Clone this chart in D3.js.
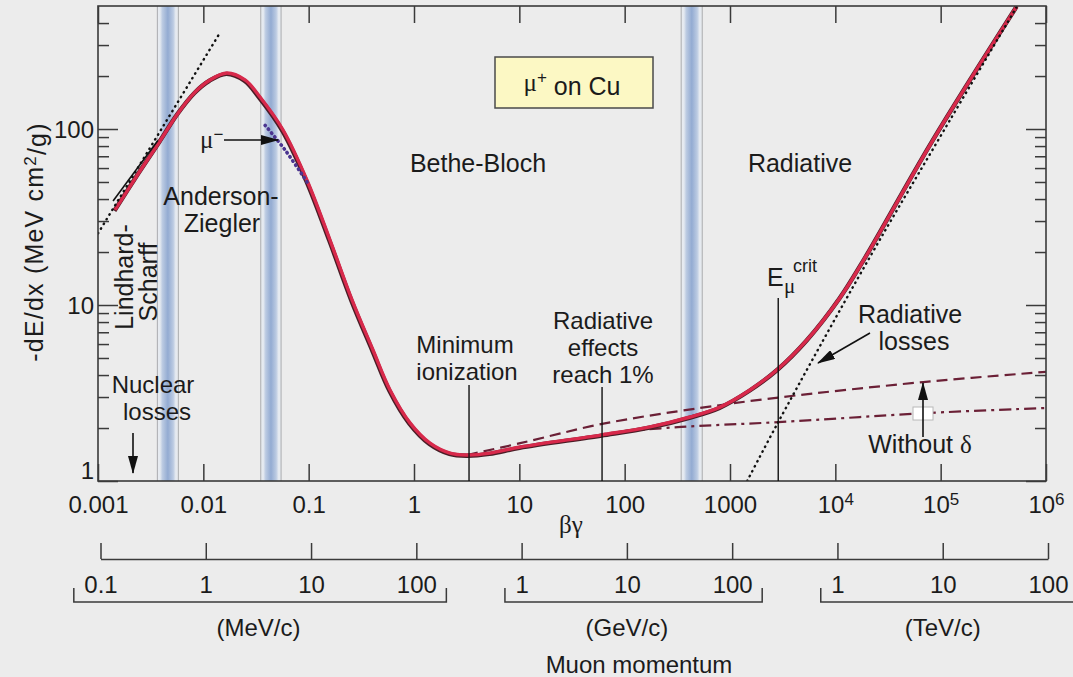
<!DOCTYPE html>
<html>
<head>
<meta charset="utf-8">
<script src="https://cdn.jsdelivr.net/npm/d3@7"></script>
<style>
  body { margin: 0; background: #ececec; }
  svg text { font-family: "Liberation Sans", Arial, Helvetica, sans-serif; fill: #1b1b1b; }
  .gr { font-family: "Liberation Serif", "DejaVu Serif", serif; }
</style>
</head>
<body>
<svg id="chart" width="1073" height="677"></svg>
<script>
// ---- data ----
var bgTicks  = [0.001, 0.01, 0.1, 1, 10, 100, 1000, 1e4, 1e5, 1e6];
var bgLabels = ["0.001", "0.01", "0.1", "1", "10", "100", "1000", "10^4", "10^5", "10^6"];
var yMajor = [1, 10, 100];
var yMinor = [2, 3, 4, 5, 6, 7, 8, 9, 20, 30, 40, 50, 60, 70, 80, 90, 200, 300, 400];

// muon momentum axis, in MeV/c
var momMeV = [0.1, 1, 10, 100];
var momGeV = [1e3, 1e4, 1e5];
var momTeV = [1e6, 1e7, 1e8];
var momMeVLabels = ["0.1", "1", "10", "100"];
var momGeVLabels = ["1", "10", "100"];
var momTeVLabels = ["1", "10", "100"];
var momUnits = ["(MeV/c)", "(GeV/c)", "(TeV/c)"];

// [beta*gamma, -dE/dx in MeV cm2/g]
var totalLoss = [[0.00145, 34.7], [0.0024, 55.5], [0.00388, 85.5], [0.00575, 123], [0.00834, 162],
  [0.01157, 190], [0.01677, 208], [0.02486, 190], [0.0345, 152], [0.0571, 98.7], [0.0966, 51],
  [0.1594, 23.4], [0.2579, 10.7], [0.408, 5.55], [0.592, 3.29], [0.916, 2.14], [1.42, 1.64],
  [2.2, 1.44], [3.19, 1.405], [5.27, 1.44], [10.2, 1.56], [61, 1.83], [174, 2.03], [417, 2.31],
  [804, 2.63], [1549, 3.29], [2856, 4.33], [5383, 6.33], [11076, 11.0], [19120, 18.5],
  [84560, 86.6], [530600, 500]];
var radiativeLoss = [[1456, 1.0], [2870, 2.16], [20500, 18.0], [94900, 86.6], [533000, 500]];
var noDelta = [[3.19, 1.405], [10.2, 1.64], [61, 2.11], [521, 2.6], [2870, 2.98], [68400, 3.65], [1e6, 4.17]];
var withDelta = [[100, 1.92], [344, 2.03], [2870, 2.16], [71400, 2.43], [1e6, 2.6]];
var lindhardFit = [[0.00139, 39], [0.0037, 86]];
var lindhardExtrap = [[0.001, 25.5], [0.0145, 355]];
var muMinus = [[0.0386, 105], [0.0597, 76], [0.0966, 50]];
var bands = [[0.00366, 0.00579], [0.0351, 0.0547], [344, 545]];
var markers = { minIon: 3.33, rad1pct: 61, eCrit: 2870 };

// ---- scales ----
var svg = d3.select("#chart");
var x = d3.scaleLog().domain([0.001, 1e6]).range([98, 1046]);
var y = d3.scaleLog().domain([1, 500]).range([481, 6]);
var p = d3.scaleLog().domain([0.1, 1e8]).range([100.5, 1048]);

svg.append("rect").attr("width", 1073).attr("height", 677).attr("fill", "#ececec");

var defs = svg.append("defs");
defs.append("clipPath").attr("id", "plotclip").append("rect")
  .attr("x", 98).attr("y", 6).attr("width", 948).attr("height", 475);
var grad = defs.append("linearGradient").attr("id", "bandGrad");
[[0, "#e9ecf0"], [0.13, "#e4e9f0"], [0.24, "#bccbe2"], [0.5, "#93abd2"], [0.76, "#bccbe2"], [0.87, "#e4e9f0"], [1, "#e9ecf0"]]
  .forEach(function (s) { grad.append("stop").attr("offset", s[0]).attr("stop-color", s[1]); });
defs.append("marker").attr("id", "ah").attr("viewBox", "0 0 18 10").attr("refX", 17).attr("refY", 5)
  .attr("markerWidth", 18).attr("markerHeight", 10).attr("markerUnits", "userSpaceOnUse").attr("orient", "auto")
  .append("path").attr("d", "M0,0L18,5L0,10Z").attr("fill", "#111");

// ---- bands ----
var bandG = svg.append("g");
bands.forEach(function (b) {
  bandG.append("rect").attr("x", x(b[0])).attr("y", y(500)).attr("width", x(b[1]) - x(b[0]))
    .attr("height", y(1) - y(500)).attr("fill", "url(#bandGrad)");
  b.forEach(function (v) {
    bandG.append("line").attr("x1", x(v)).attr("x2", x(v)).attr("y1", y(500)).attr("y2", y(1))
      .attr("stroke", "#a9abae").attr("stroke-width", 1);
  });
});

// ---- curves ----
var line = d3.line().x(function (d) { return x(d[0]); }).y(function (d) { return y(d[1]); })
  .curve(d3.curveCatmullRom.alpha(0.5));
var plot = svg.append("g").attr("clip-path", "url(#plotclip)");

plot.append("path").datum(noDelta).attr("d", line).attr("fill", "none")
  .attr("stroke", "#6b2036").attr("stroke-width", 2.2).attr("stroke-dasharray", "11,6");
plot.append("path").datum(withDelta).attr("d", line).attr("fill", "none")
  .attr("stroke", "#6b2036").attr("stroke-width", 2.2).attr("stroke-dasharray", "12,5,3,5");

plot.append("path").datum(totalLoss).attr("d", line).attr("fill", "none")
  .attr("stroke", "#4a1d26").attr("stroke-width", 4.4).attr("transform", "translate(-0.6,0.8)");
plot.append("path").datum(totalLoss).attr("d", line).attr("fill", "none")
  .attr("stroke", "#d8294b").attr("stroke-width", 3.4);

plot.append("path").datum(lindhardFit).attr("d", line).attr("fill", "none")
  .attr("stroke", "#111").attr("stroke-width", 1.6);
plot.append("path").datum(lindhardExtrap).attr("d", line).attr("fill", "none")
  .attr("stroke", "#111").attr("stroke-width", 2.4).attr("stroke-dasharray", "0.5,5").attr("stroke-linecap", "round");
plot.append("path").datum(radiativeLoss).attr("d", line).attr("fill", "none")
  .attr("stroke", "#111").attr("stroke-width", 2.4).attr("stroke-dasharray", "0.5,5").attr("stroke-linecap", "round");
plot.append("path").datum(muMinus).attr("d", line).attr("fill", "none")
  .attr("stroke", "#4b3590").attr("stroke-width", 3.6).attr("stroke-dasharray", "0.5,4.5").attr("stroke-linecap", "round");

// ---- frame and axes ----
svg.append("rect").attr("x", 98).attr("y", 6).attr("width", 948).attr("height", 475)
  .attr("fill", "none").attr("stroke", "#3a3a3a").attr("stroke-width", 1.6);

function styleTicks(g) {
  g.select(".domain").remove();
  g.selectAll(".tick line").attr("stroke", "#3a3a3a").attr("stroke-width", 1.5);
}
svg.append("g").attr("transform", "translate(0," + y(1) + ")")
  .call(d3.axisTop(x).tickValues(bgTicks).tickSize(17).tickSizeOuter(0).tickFormat("")).call(styleTicks);
svg.append("g").attr("transform", "translate(0," + y(500) + ")")
  .call(d3.axisBottom(x).tickValues(bgTicks).tickSize(17).tickSizeOuter(0).tickFormat("")).call(styleTicks);
svg.append("g").attr("transform", "translate(" + x(0.001) + ",0)")
  .call(d3.axisRight(y).tickValues(yMajor).tickSize(20).tickSizeOuter(0).tickFormat("")).call(styleTicks);
svg.append("g").attr("transform", "translate(" + x(0.001) + ",0)")
  .call(d3.axisRight(y).tickValues(yMinor).tickSize(11).tickSizeOuter(0).tickFormat("")).call(styleTicks);
svg.append("g").attr("transform", "translate(" + x(1e6) + ",0)")
  .call(d3.axisLeft(y).tickValues(yMajor).tickSize(20).tickSizeOuter(0).tickFormat("")).call(styleTicks);
svg.append("g").attr("transform", "translate(" + x(1e6) + ",0)")
  .call(d3.axisLeft(y).tickValues(yMinor).tickSize(11).tickSizeOuter(0).tickFormat("")).call(styleTicks);

// beta*gamma labels
var gxl = svg.append("g").attr("transform", "translate(0," + y(1) + ")")
  .call(d3.axisBottom(x).tickValues(bgTicks).tickSize(0).tickPadding(15).tickFormat(""));
gxl.select(".domain").remove();
gxl.attr("font-size", 24).attr("font-family", null);
gxl.selectAll(".tick text").attr("fill", "#1b1b1b").each(function (d, i) {
  var t = d3.select(this), lab = bgLabels[i];
  if (lab.indexOf("^") >= 0) {
    var parts = lab.split("^");
    t.append("tspan").text(parts[0]);
    t.append("tspan").attr("dy", "-0.45em").attr("font-size", "17px").text(parts[1]);
  } else {
    t.text(lab);
  }
});

// y labels
var gyl = svg.append("g").attr("transform", "translate(" + x(0.001) + ",0)")
  .call(d3.axisLeft(y).tickValues(yMajor).tickSize(0).tickPadding(4).tickFormat(d3.format("d")));
gyl.select(".domain").remove();
gyl.attr("font-size", 24).attr("font-family", null);
gyl.selectAll(".tick text").attr("fill", "#1b1b1b")
  .attr("dy", function (d) { return d === 1 ? "-0.12em" : "0.34em"; });

svg.append("text").attr("transform", "translate(43,242) rotate(-90)").attr("text-anchor", "middle")
  .attr("font-size", 25).attr("letter-spacing", 1.2)
  .call(function (t) {
    t.append("tspan").text("-dE/dx (MeV cm");
    t.append("tspan").attr("dy", "-0.42em").attr("font-size", "17px").text("2");
    t.append("tspan").attr("dy", "0.42em").text("/g)");
  });

svg.append("text").attr("class", "gr").attr("x", 571).attr("y", 533).attr("text-anchor", "middle")
  .attr("font-size", 25).text("\u03b2\u03b3");

// ---- momentum axis ----
var gm = svg.append("g").attr("transform", "translate(0,559)")
  .call(d3.axisTop(p).tickValues(momMeV.concat(momGeV, momTeV)).tickSize(16).tickSizeOuter(0).tickFormat(""));
gm.select(".domain").attr("stroke", "#3a3a3a").attr("stroke-width", 1.5);
gm.selectAll(".tick line").attr("stroke", "#3a3a3a").attr("stroke-width", 1.5);

[[momMeV, momMeVLabels], [momGeV, momGeVLabels], [momTeV, momTeVLabels]].forEach(function (grp, gi) {
  var g = svg.append("g").attr("transform", "translate(0,559)")
    .call(d3.axisBottom(p).tickValues(grp[0]).tickSize(0).tickPadding(17)
      .tickFormat(function (d, i) { return grp[1][i]; }));
  g.select(".domain").remove();
  g.attr("font-size", 24).attr("font-family", null);
  g.selectAll(".tick text").attr("fill", "#1b1b1b");
  var lo = Infinity, hi = -Infinity;
  g.selectAll(".tick").each(function (d) {
    var bb = this.querySelector("text").getBBox();
    lo = Math.min(lo, p(d) + bb.x);
    hi = Math.max(hi, p(d) + bb.x + bb.width);
  });
  svg.append("path").attr("d", "M" + (lo - 10) + ",588V602H" + (hi + 10) + "V588")
    .attr("fill", "none").attr("stroke", "#3a3a3a").attr("stroke-width", 1.5);
  var mid = Math.sqrt(grp[0][0] * grp[0][grp[0].length - 1]);
  svg.append("text").attr("x", p(mid)).attr("y", 636).attr("text-anchor", "middle")
    .attr("font-size", 24).text(momUnits[gi]);
});
svg.append("text").attr("x", 639).attr("y", 673).attr("text-anchor", "middle")
  .attr("font-size", 24).text("Muon momentum");

// ---- annotations ----
// multi-line label as one text element
function label(tx, ty, lines, gap, shifts, size) {
  var t = svg.append("text").attr("x", tx).attr("y", ty).attr("text-anchor", "middle").attr("font-size", size || 25);
  lines.forEach(function (s, i) {
    t.append("tspan").attr("x", tx + ((shifts && shifts[i]) || 0)).attr("dy", i ? gap : 0).text(s);
  });
  return t;
}
function arrow(x1, y1, x2, y2) {
  svg.append("line").attr("x1", x1).attr("y1", y1).attr("x2", x2).attr("y2", y2)
    .attr("stroke", "#111").attr("stroke-width", 1.6).attr("marker-end", "url(#ah)");
}
function vline(bg, top) {
  svg.append("line").attr("x1", x(bg)).attr("x2", x(bg)).attr("y1", top).attr("y2", y(1))
    .attr("stroke", "#111").attr("stroke-width", 1.4);
}

// box
svg.append("rect").attr("x", 495).attr("y", 57).attr("width", 158).attr("height", 51)
  .attr("fill", "#fcf8c4").attr("stroke", "#4a4a4a").attr("stroke-width", 1.5);
svg.append("text").attr("x", 572).attr("y", 91).attr("text-anchor", "middle").attr("font-size", 25)
  .call(function (t) {
    t.append("tspan").attr("class", "gr").text("\u03bc");
    t.append("tspan").attr("dy", "-0.45em").attr("font-size", "17px").text("+");
    t.append("tspan").attr("dy", "0.45em").text(" on Cu");
  });

label(478, 172, ["Bethe-Bloch"]);
label(800, 172, ["Radiative"]);
label(221, 205, ["Anderson-", "Ziegler"], 27, [0, 1]);

svg.append("text").attr("transform", "translate(133,277) rotate(-90)").attr("text-anchor", "middle")
  .attr("font-size", 25).call(function (t) {
    t.append("tspan").attr("x", 0).text("Lindhard-");
    t.append("tspan").attr("x", -5).attr("dy", 24).text("Scharff");
  });

label(153, 393, ["Nuclear", "losses"], 27, [0, 4], 24);
arrow(133, 433, 133, 473);

svg.append("text").attr("x", 200).attr("y", 148).attr("font-size", 25)
  .call(function (t) {
    t.append("tspan").attr("class", "gr").text("\u03bc");
    t.append("tspan").attr("dy", "-0.5em").attr("font-size", "17px").text("\u2212");
  });
arrow(224, 140, 278, 140);

label(465, 353, ["Minimum", "ionization"], 27, [0, 2], 24);
vline(markers.minIon, 385);

label(603, 329, ["Radiative", "effects", "reach 1%"], 27, null, 24);
vline(markers.rad1pct, 387);

svg.append("text").attr("x", 767).attr("y", 286).attr("font-size", 25)
  .call(function (t) {
    t.append("tspan").text("E");
    t.append("tspan").attr("class", "gr").attr("x", 784).attr("y", 293).attr("font-size", 21).text("\u03bc");
    t.append("tspan").attr("x", 793).attr("y", 272).attr("font-size", 18).text("crit");
  });
vline(markers.eCrit, 298);

label(910, 323, ["Radiative", "losses"], 27, [0, 4]);
arrow(870, 333, 818, 363);

svg.append("rect").attr("x", 913).attr("y", 407).attr("width", 20).attr("height", 13)
  .attr("fill", "#ffffff").attr("stroke", "#b8b8b8").attr("stroke-width", 1);
arrow(923, 437, 923, 383);
svg.append("text").attr("x", 920).attr("y", 453).attr("text-anchor", "middle").attr("font-size", 25)
  .call(function (t) {
    t.append("tspan").text("Without ");
    t.append("tspan").attr("class", "gr").text("\u03b4");
  });
</script>
</body>
</html>
